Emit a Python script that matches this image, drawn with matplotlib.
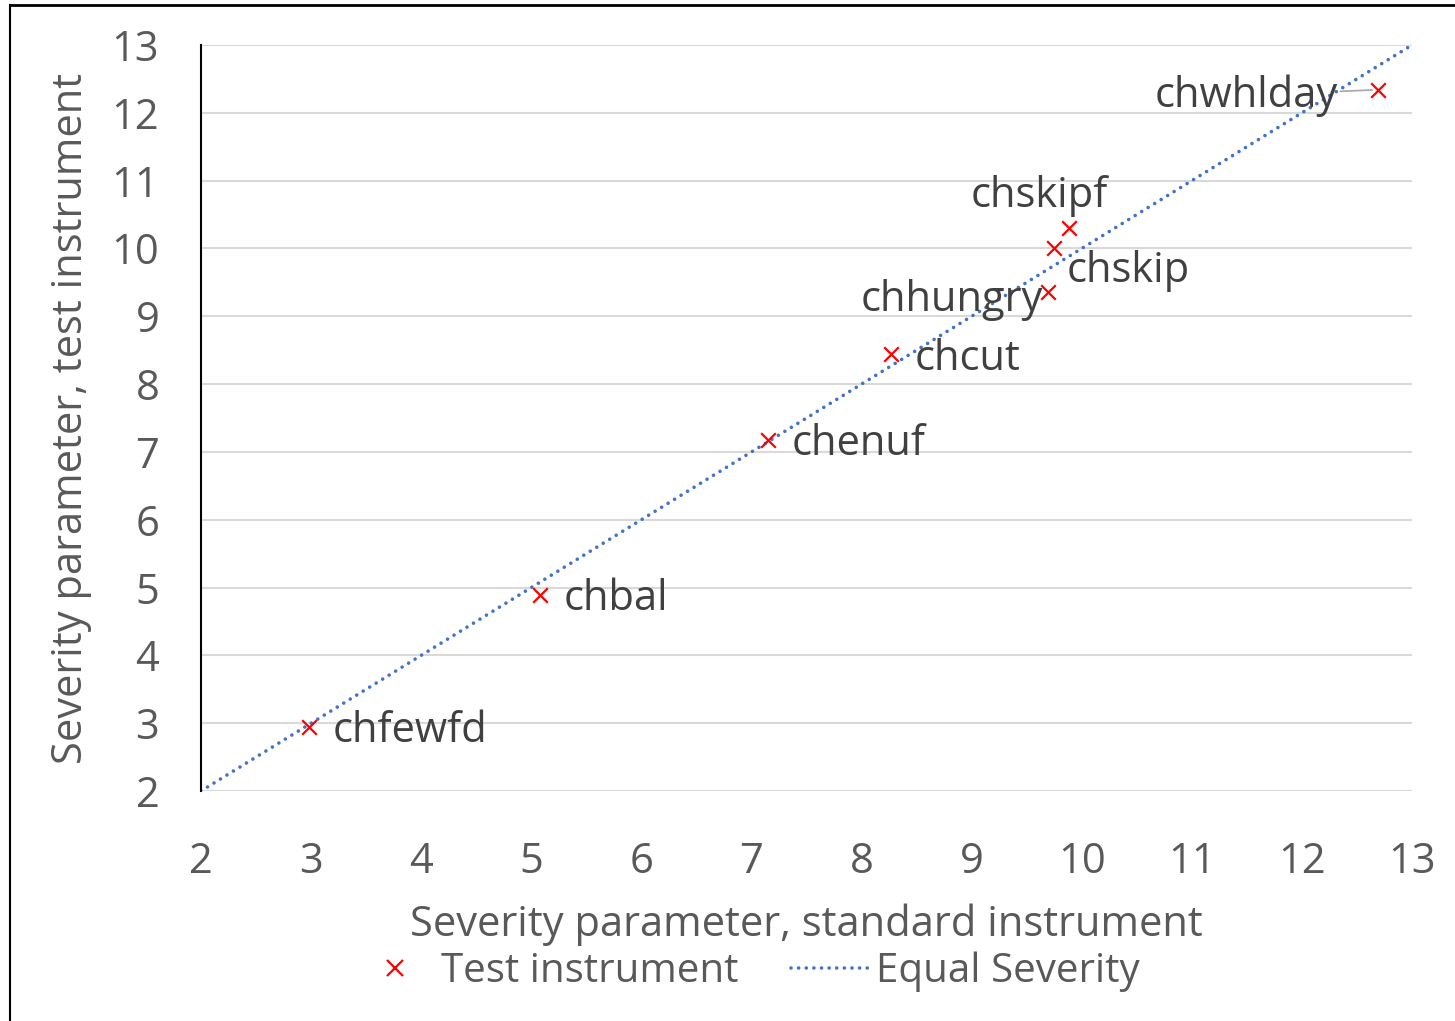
import matplotlib
matplotlib.use("Agg")
import matplotlib.pyplot as plt
from matplotlib.lines import Line2D

plt.rcParams['font.family'] = ['Open Sans', 'DejaVu Sans']

names = ["chfewfd", "chbal", "chenuf", "chcut", "chhungry", "chskip", "chskipf", "chwhlday"]
standard = [2.98, 5.08, 7.15, 8.27, 9.69, 9.75, 9.88, 12.69]
test = [2.95, 4.89, 7.18, 8.45, 9.36, 10.01, 10.30, 12.34]
equal_line = [2, 13]
ticks = list(range(2, 14))

# label offsets in points (dx, dy) relative to each point
offsets = {
    "chfewfd": (17, -3, "left"),
    "chbal": (17, -3, "left"),
    "chenuf": (17, -3, "left"),
    "chcut": (17, -4, "left"),
    "chhungry": (-3, -6, "right"),
    "chskip": (9, -17, "left"),
    "chskipf": (28, 23, "right"),
    "chwhlday": (-29, -4, "right"),
}

fig = plt.figure(figsize=(14.55, 10.21), dpi=100)
ax = fig.add_axes([201/1455, 1-791/1021, (1412-201)/1455, (791-45)/1021])

text_col = "#595959"
label_col = "#404040"
dot_style = (0, (0.01, 2.1))

ax.plot(equal_line, equal_line, linestyle=dot_style, color="#4472C4", lw=2.6,
        dash_capstyle="round", solid_capstyle="round", zorder=2)
ax.scatter(standard, test, marker="x", color="#FF0000", s=110, linewidths=1.6, zorder=3)

for n, xs, ys in zip(names, standard, test):
    dx, dy, ha = offsets[n]
    kw = {}
    if n == "chwhlday":
        kw["arrowprops"] = dict(arrowstyle="-", color="#a6a6a6", lw=1.2,
                                shrinkA=0, shrinkB=4)
    ax.annotate(n, (xs, ys), xytext=(dx, dy), textcoords="offset points",
                ha=ha, va="center", fontsize=30, color=label_col, **kw)

ax.set_xlim(2, 13)
ax.set_ylim(2, 13)
ax.set_xticks(ticks)
ax.set_yticks(ticks)
ax.tick_params(axis="both", length=0, labelsize=30, labelcolor=text_col)
ax.tick_params(axis="x", pad=36)
ax.tick_params(axis="y", pad=30)
ax.grid(axis="y", color="#d9d9d9", lw=1.5)
ax.set_axisbelow(True)
for s in ["top", "right", "bottom"]:
    ax.spines[s].set_visible(False)
ax.spines["left"].set_color("black")
ax.spines["left"].set_linewidth(1.5)

ax.set_xlabel("Severity parameter, standard instrument", fontsize=30, color=text_col, labelpad=15)
ax.set_ylabel("Severity parameter, test instrument", fontsize=30, color=text_col, labelpad=14)

handles = [Line2D([], [], marker="x", color="#FF0000", linestyle="none", markersize=11, markeredgewidth=1.6),
           Line2D([], [], linestyle=dot_style, color="#4472C4", lw=2.6, dash_capstyle="round")]
fig.legend(handles, ["Test instrument", "Equal Severity"], loc="center",
           bbox_to_anchor=(748/1455, 1-972/1021), ncol=2, frameon=False,
           fontsize=29, labelcolor=text_col, handlelength=1.9, columnspacing=1.3,
           handletextpad=0.2)

# outer frame
fig.add_artist(Line2D([10/1455, 10/1455], [0, 1-5/1021], transform=fig.transFigure, color="black", lw=1.5))
fig.add_artist(Line2D([10/1455, 1], [1-5/1021, 1-5/1021], transform=fig.transFigure, color="black", lw=2))

fig.savefig("out.png", dpi=100)
